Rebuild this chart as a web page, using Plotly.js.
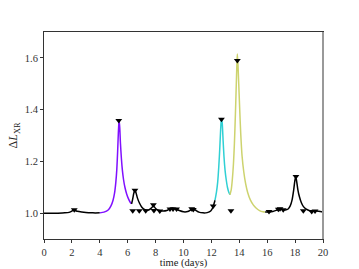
<!DOCTYPE html>
<html><head><meta charset="utf-8">
<script src="https://cdn.plot.ly/plotly-3.0.1.min.js"></script>
<style>body{margin:0;background:#fff}#c{width:359px;height:269px}</style>
</head><body><div id="c"></div>
<script>
// Light curve segments (time in days, ΔL_XR)
const tBlack1 = [0, 0.5, 1.0, 1.5, 1.8, 2.0, 2.1, 2.2, 2.4, 2.7, 3.0, 3.5, 4.0];
const lBlack1 = [1.0, 1.0, 1.0, 1.001, 1.003, 1.008, 1.012, 1.011, 1.007, 1.004, 1.002, 1.001, 1.001];
const tPurple = [4.0, 4.3, 4.6, 4.8, 4.95, 5.05, 5.15, 5.22, 5.28, 5.33, 5.38, 5.43, 5.48, 5.55, 5.62, 5.7, 5.8, 5.92, 6.05, 6.18, 6.28];
const lPurple = [1.001, 1.004, 1.012, 1.028, 1.05, 1.075, 1.12, 1.17, 1.24, 1.31, 1.362, 1.33, 1.27, 1.21, 1.165, 1.13, 1.1, 1.075, 1.056, 1.042, 1.036];
const tBlack2 = [6.28, 6.36, 6.44, 6.52, 6.6, 6.7, 6.85, 7.0, 7.2, 7.5, 7.7, 7.85, 8.0, 8.2, 8.5, 8.8, 9.0, 9.2, 9.45, 9.7, 10.0, 10.3, 10.5, 10.65, 10.85, 11.1, 11.4, 11.7, 11.95, 12.1, 12.26];
const lBlack2 = [1.036, 1.055, 1.078, 1.09, 1.078, 1.058, 1.038, 1.024, 1.014, 1.012, 1.02, 1.028, 1.018, 1.011, 1.008, 1.01, 1.017, 1.02, 1.016, 1.01, 1.005, 1.006, 1.012, 1.017, 1.012, 1.004, 1.001, 1.002, 1.008, 1.022, 1.05];
const tCyan = [12.26, 12.36, 12.45, 12.53, 12.6, 12.66, 12.71, 12.74, 12.78, 12.84, 12.9, 12.98, 13.06, 13.15, 13.24, 13.33];
const lCyan = [1.05, 1.08, 1.12, 1.18, 1.25, 1.32, 1.36, 1.366, 1.345, 1.28, 1.22, 1.165, 1.13, 1.1, 1.082, 1.071];
const tYellow = [13.33, 13.42, 13.5, 13.58, 13.65, 13.72, 13.78, 13.83, 13.86, 13.9, 13.96, 14.03, 14.1, 14.2, 14.32, 14.45, 14.6, 14.8, 15.0, 15.2, 15.45, 15.7, 15.85];
const lYellow = [1.071, 1.09, 1.13, 1.19, 1.27, 1.38, 1.49, 1.58, 1.615, 1.58, 1.5, 1.4, 1.31, 1.22, 1.16, 1.115, 1.08, 1.05, 1.032, 1.02, 1.01, 1.005, 1.004];
const tBlack3 = [15.85, 16.1, 16.4, 16.7, 16.9, 17.1, 17.3, 17.5, 17.65, 17.78, 17.9, 17.98, 18.05, 18.12, 18.2, 18.3, 18.45, 18.6, 18.8, 19.0, 19.2, 19.45, 19.7, 20.0];
const lBlack3 = [1.004, 1.004, 1.006, 1.012, 1.016, 1.014, 1.012, 1.016, 1.028, 1.05, 1.09, 1.125, 1.142, 1.12, 1.09, 1.065, 1.04, 1.025, 1.015, 1.01, 1.007, 1.009, 1.007, 1.004];
// Detected flare markers
const markT = [2.17, 5.36, 6.36, 6.52, 6.83, 7.29, 7.84, 7.88, 8.3, 9.03, 9.25, 9.5, 10.59, 10.7, 12.13, 12.72, 13.4, 13.86, 16.13, 16.8, 16.92, 17.15, 18.06, 18.59, 19.19, 19.43];
const markL = [1.013, 1.358, 1.009, 1.088, 1.009, 1.009, 1.032, 1.01, 1.008, 1.016, 1.016, 1.016, 1.017, 1.014, 1.028, 1.363, 1.009, 1.59, 1.006, 1.015, 1.017, 1.013, 1.142, 1.009, 1.006, 1.008];
const xTicks = [0, 2, 4, 6, 8, 10, 12, 14, 16, 18, 20];
const yTicks = [1.0, 1.2, 1.4, 1.6];

const line = (x, y, c) => ({x: x, y: y, type: 'scatter', mode: 'lines', line: {color: c, width: 1.5, shape: 'spline', smoothing: 0.6}, hoverinfo: 'skip'});
const data = [
  line(tBlack1, lBlack1, '#000000'),
  line(tPurple, lPurple, '#8010ff'),
  line(tBlack2, lBlack2, '#000000'),
  line(tCyan, lCyan, '#30d0d4'),
  line(tYellow, lYellow, '#cdd36e'),
  line(tBlack3, lBlack3, '#000000'),
  {x: markT, y: markL, type: 'scatter', mode: 'markers', marker: {symbol: 'triangle-down', size: 6, color: '#000000'}}
];
const tickFont = {family: 'Liberation Serif, DejaVu Serif, serif', size: 10.5, color: '#333'};
const titleFont = {family: 'Liberation Serif, DejaVu Serif, serif', size: 10.5, color: '#222'};
const layout = {
  width: 359, height: 269,
  margin: {l: 44, r: 36, t: 32, b: 30},
  showlegend: false,
  paper_bgcolor: '#fff', plot_bgcolor: '#fff',
  font: tickFont,
  xaxis: {range: [0, 20], tickvals: xTicks, ticktext: xTicks.map(String), ticks: 'outside', ticklen: 3, tickcolor: '#333',
    tickfont: tickFont, automargin: false,
    showgrid: false, zeroline: false, showline: true, linecolor: '#333', linewidth: 1, mirror: true,
    title: {text: 'time (days)', font: titleFont, standoff: 0}},
  yaxis: {range: [0.9, 1.7], tickvals: yTicks, ticktext: yTicks.map(v => v.toFixed(1)), ticks: 'outside', ticklen: 3, tickcolor: '#333',
    tickfont: tickFont, automargin: false,
    showgrid: false, zeroline: false, showline: true, linecolor: '#333', linewidth: 1, mirror: true,
    title: {text: 'Δ<i>L</i><sub>XR</sub>', font: {family: 'Liberation Serif, DejaVu Serif, serif', size: 12, color: '#222'}, standoff: 4}},
  shapes: [{type: 'line', xref: 'paper', yref: 'paper', x0: 1, x1: 1, y0: 0, y1: 1, line: {color: '#999', width: 2}}]
};
Plotly.newPlot('c', data, layout, {staticPlot: true});
</script></body></html>
